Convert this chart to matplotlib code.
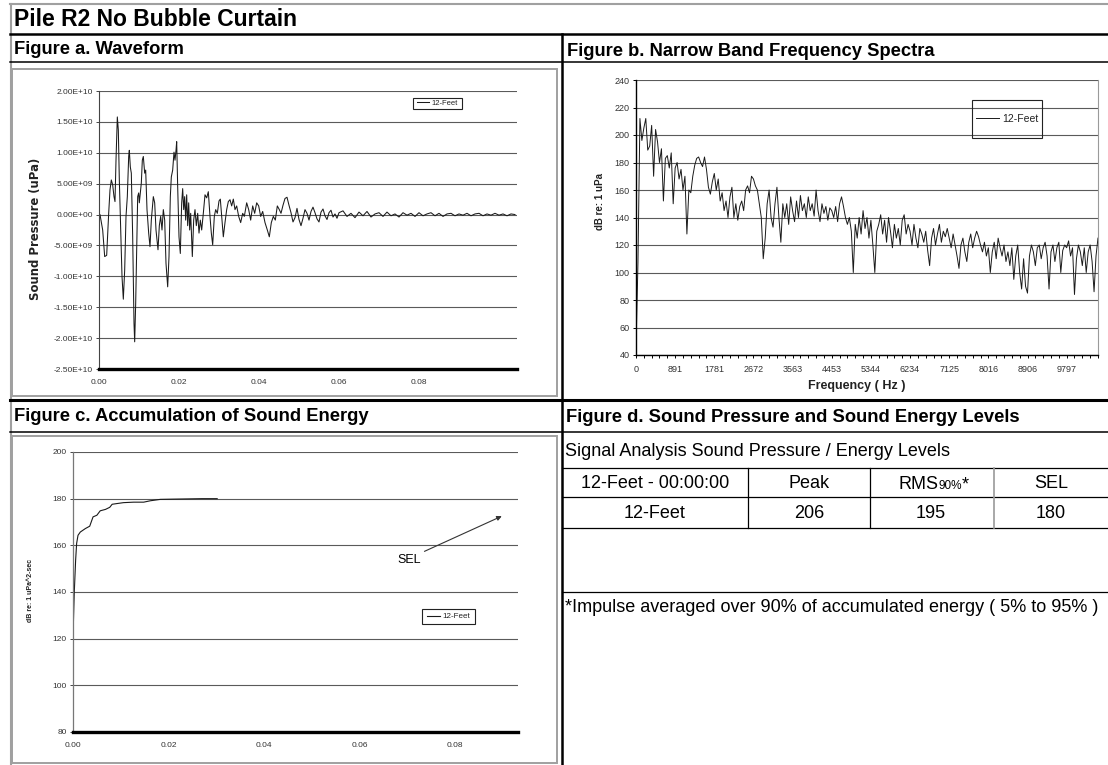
import numpy as np
import matplotlib
matplotlib.use("Agg")
import matplotlib.pyplot as plt
from matplotlib.lines import Line2D
from matplotlib.patches import Rectangle
from matplotlib.text import Annotation
from matplotlib.ticker import FuncFormatter, MultipleLocator, FormatStrFormatter

plt.rcParams['font.family'] = ['Liberation Sans', 'DejaVu Sans']

# ---------------- data ----------------
series_name = '12-Feet'

# Figure a: waveform (time in ms, pressure in 1e9 uPa)
waveform_time_ms = [
    0.0, 0.25, 0.92, 1.42, 1.92, 2.42, 2.75, 3.08, 3.42, 3.75, 4.0, 4.25, 4.58, 4.83,
    5.08, 5.42, 5.75, 6.08, 6.42, 6.75, 7.08, 7.42, 7.58, 7.83, 8.08, 8.42, 8.75, 8.92,
    9.17, 9.42, 9.67, 9.92, 10.08, 10.33, 10.58, 10.83, 11.08, 11.42, 11.67, 12.0, 12.42,
    12.75, 13.08, 13.58, 13.92, 14.25, 14.75, 15.08, 15.42, 15.75, 16.08, 16.42, 16.75,
    17.17, 17.5, 17.83, 18.08, 18.42, 18.75, 19.0, 19.25, 19.42, 19.67, 20.0, 20.33,
    20.67, 20.92, 21.17, 21.42, 21.67, 21.92, 22.17, 22.42, 22.67, 22.92, 23.33, 23.67,
    24.0, 24.33, 24.67, 25.0, 25.33, 25.67, 26.08, 26.5, 26.92, 27.33, 27.75, 28.08,
    28.42, 28.83, 29.17, 29.58, 30.0, 30.33, 30.75, 31.08, 31.5, 31.92, 32.33, 32.75,
    33.17, 33.58, 34.0, 34.42, 34.92, 35.42, 35.92, 36.33, 36.92, 37.42, 37.92, 38.42,
    38.92, 39.42, 39.92, 40.42, 40.92, 41.5, 42.08, 42.58, 43.08, 43.58, 44.08, 44.58,
    45.08, 45.5, 46.0, 46.5, 47.0, 47.5, 48.0, 48.5, 49.0, 49.5, 50.0, 50.5, 51.0, 51.5,
    52.0, 52.5, 53.0, 53.5, 54.0, 54.5, 55.0, 55.5, 56.0, 56.5, 57.0, 57.5, 58.0, 58.5,
    59.0, 59.5, 60.0, 61, 62, 63, 64, 65, 66, 67, 68, 69, 70, 71, 72, 73, 74, 75, 76,
    77, 78, 79, 80, 81, 82, 83, 84, 85, 86, 87, 88, 89, 90, 91, 92, 93, 94, 95, 96, 97,
    98, 99, 100, 101, 102, 103, 104,
]
waveform_pressure_1e9 = [
    0.0, 0.0, -2.5, -6.8, -6.6, 0.2, 4.0, 5.6, 4.8, 2.9, 2.1, 8.8, 15.8, 13.7,
    5.6, -2.5, -10.0, -13.7, -9.0, -0.3, 2.9, 9.4, 10.4, 7.7, 6.7, -3.6, -17.6, -20.6,
    -14.4, -5.7, 2.9, 3.5, 1.9, 3.5, 5.1, 8.8, 9.4, 6.7, 7.2, 0.8, -3.0,
    -5.2, -0.9, 2.9, 1.9, -2.5, -5.7, -1.8, -0.3, -2.5, 0.8, -0.9, -7.9,
    -11.7, -6.8, 2.9, 6.1, 7.2, 10.1, 8.8, 10.4, 11.8, 4.5, -3.6, -6.3,
    1.9, 4.2, 0.8, 2.9, -0.9, 3.2, -1.8, 1.9, -2.5, 0.2, -6.8, -0.9,
    0.8, -1.8, 0.2, -3.0, -0.9, -2.5, 0.2, 3.2, 2.7, 3.7, -0.3, -3.0,
    -4.9, -0.3, 0.8, 0.2, 2.2, 2.5, -0.9, -3.6, -1.3, 0.8, 2.1, 2.4,
    1.4, 2.5, 0.8, 1.4, -0.3, -1.3, 0.2, -0.3, 1.9, 0.8, -0.9, 1.4,
    0.2, 1.9, 1.4, -0.3, 0.5, -1.3, -2.5, -3.6, -1.3, -0.3, -0.9, 1.4,
    0.8, 0.2, 1.5, 2.6, 2.8, 1.5, 0.3, -1.2, -0.5, 1.0, -0.8, -1.8, -0.6, 0.8,
    0.2, -0.9, 0.5, 1.2, 0.3, -0.7, -1.2, 0.4, 0.9, -0.2, -0.8, 0.3, 0.7, -0.4,
    0.1, -0.6, 0.3, 0.6, -0.3, 0.2, -0.5, 0.4, -0.2, 0.5, -0.4, 0.1, 0.3, -0.3, 0.4, -0.2, 0.1, -0.4, 0.3,
    -0.1, 0.2, -0.3, 0.3, -0.2, 0.1, 0.3, -0.2, 0.2, -0.3, 0.1, 0.2, -0.2, 0.1, -0.1, 0.2, -0.2, 0.1, 0.2, -0.2, 0.1,
    -0.1, 0.2, -0.1, 0.1, -0.2, 0.1, 0.0,
]
waveform_yticks_1e9 = [-25, -20, -15, -10, -5, 0, 5, 10, 15, 20]
time_ticks_s = [0.00, 0.02, 0.04, 0.06, 0.08]

# Figure b: narrow band spectrum (dB re 1 uPa), one value per frequency bin
freq_bin_hz = 44.53125
spectrum_db = [
    45, 107, 212, 196, 205, 212, 189, 192, 207, 170, 204, 195, 180, 190, 152, 183, 185, 176, 187, 150,
    176, 180, 168, 175, 160, 170, 128, 160, 158, 170, 178, 183, 184, 180, 177, 184, 175, 162, 157, 166,
    172, 160, 168, 152, 158, 145, 152, 140, 155, 162, 140, 150, 138, 148, 152, 145, 160, 163, 158, 170,
    168, 163, 160, 150, 140, 110, 125, 150, 160, 140, 133, 150, 162, 140, 122, 150, 140, 150, 135, 155,
    145, 137, 152, 140, 156, 145, 150, 140, 155, 145, 150, 141, 160, 145, 137, 150, 143, 148, 138, 147,
    145, 140, 148, 137, 150, 155, 148, 140, 135, 140, 130, 100, 135, 125, 140, 128, 145, 132, 140, 125,
    138, 120, 100, 130, 135, 142, 128, 138, 122, 140, 130, 118, 135, 125, 132, 120, 138, 142, 128, 135,
    130, 120, 135, 125, 118, 132, 128, 122, 130, 116, 105, 125, 132, 120, 128, 135, 122, 130, 126, 132,
    125, 118, 128, 120, 112, 103, 120, 125, 115, 108, 122, 128, 118, 125, 130, 126, 120, 115, 122, 112,
    118, 100, 115, 122, 110, 125, 118, 112, 120, 108, 115, 105, 118, 95, 112, 120, 100, 88, 110, 90,
    85, 112, 120, 115, 105, 118, 120, 110, 118, 122, 112, 88, 115, 120, 108, 118, 122, 100, 116, 120,
    118, 123, 112, 118, 84, 110, 120, 115, 105, 118, 100, 115, 120, 108, 86, 112, 125,
]
freq_tick_labels = ['0', '891', '1781', '2672', '3563', '4453', '5344', '6234',
                    '7125', '8016', '8906', '9797']
freq_yticks = [40, 60, 80, 100, 120, 140, 160, 180, 200, 220, 240]

# Figure c: accumulation of sound energy
sel_time_ms = [0, 0.1, 0.27, 0.55, 0.76, 1.05, 1.53, 2.6, 3.5, 4.2, 5.0, 5.7, 6.8, 7.7,
               8.2, 9.2, 10.6, 12.7, 14.8, 16.2, 18.3, 21, 24, 27, 30.2]
sel_db = [115, 128, 140, 153.6, 160.8, 164.3, 165.7, 167.2, 168.2, 172.2, 172.9, 174.8,
          175.4, 176.3, 177.6, 177.9, 178.3, 178.5, 178.5, 179.1, 179.7, 179.8, 179.9,
          180.0, 180.0]
sel_yticks = [80, 100, 120, 140, 160, 180, 200]

# Figure d: table
table_title = 'Signal Analysis Sound Pressure / Energy Levels'
table_header = ['12-Feet - 00:00:00', 'Peak', 'RMS', 'SEL']
table_row = ['12-Feet', '206', '195', '180']
table_note = '*Impulse averaged over 90% of accumulated energy ( 5% to 95% )'

# ---------------- layout helpers ----------------
W, H = 1108, 765
fig = plt.figure(figsize=(W / 100, H / 100), dpi=100)
fig.patch.set_facecolor('white')


def rect(l, t, r, b):
    return [l / W, 1 - b / H, (r - l) / W, (b - t) / H]


def hline(y, x0, x1, color='black', lw=1.0):
    fig.add_artist(Line2D([x0 / W, x1 / W], [1 - y / H, 1 - y / H],
                          transform=fig.transFigure, color=color, lw=lw))


def vline(x, y0, y1, color='black', lw=1.0):
    fig.add_artist(Line2D([x / W, x / W], [1 - y0 / H, 1 - y1 / H],
                          transform=fig.transFigure, color=color, lw=lw))


def box(l, t, r, b, color='#a0a0a0', lw=1.0):
    fig.add_artist(Rectangle((l / W, 1 - b / H), (r - l) / W, (b - t) / H,
                             transform=fig.transFigure, fill=False,
                             edgecolor=color, lw=lw))


def ftext(x, y, s, **kw):
    return fig.text(x / W, 1 - y / H, s, **kw)


# ---------------- frame lines ----------------
hline(4, 10, 1108, '#a0a0a0', 1.5)
vline(10.5, 4, 765, '#a0a0a0', 1.5)
hline(34, 10, 1108, 'black', 1.8)
hline(61.5, 10, 1108, 'black', 1.1)
vline(562, 34, 765, 'black', 1.8)
hline(400, 10, 1108, 'black', 2.2)
hline(432, 10, 1108, 'black', 1.1)
box(12, 69, 557, 396, '#a0a0a0', 1.4)
box(12, 436, 557, 763, '#a0a0a0', 1.4)

# headings
HFS = 13.2
ftext(14, 19.5, 'Pile R2 No Bubble Curtain', fontsize=16.5, fontweight='bold', va='center')
ftext(14, 50, 'Figure a. Waveform', fontsize=HFS, fontweight='bold', va='center')
ftext(567, 51, 'Figure b. Narrow Band Frequency Spectra', fontsize=HFS, fontweight='bold', va='center')
ftext(14, 417, 'Figure c. Accumulation of Sound Energy', fontsize=HFS, fontweight='bold', va='center')
ftext(566, 418, 'Figure d. Sound Pressure and Sound Energy Levels', fontsize=HFS, fontweight='bold', va='center')

GRID = '#5a5a5a'
TICKC = '#333333'
LINEC = '#1a1a1a'


def legend_box(ax, l, t, r, b, fs, hl):
    box(l, t, r, b, '#222222', 0.8)
    ax.legend(loc='center', bbox_to_anchor=((l + r) / 2 / W, 1 - (t + b) / 2 / H),
              bbox_transform=fig.transFigure, frameon=False, fontsize=fs,
              handlelength=hl, handletextpad=0.3, borderpad=0, labelcolor='#222222')


# ---------------- Figure a ----------------
axa = fig.add_axes(rect(99, 91, 517, 369))
axa.plot(np.array(waveform_time_ms) / 1000.0, np.array(waveform_pressure_1e9) * 1e9,
         color=LINEC, lw=0.75, label=series_name)
axa.set_xlim(0, 0.1045)
axa.set_ylim(-2.5e10, 2.0e10)
axa.set_yticks(np.array(waveform_yticks_1e9) * 1e9)
axa.yaxis.set_major_formatter(FuncFormatter(lambda v, p: f"{v:.2E}"))
axa.set_xticks(time_ticks_s)
axa.xaxis.set_major_formatter(FormatStrFormatter('%.2f'))
axa.yaxis.grid(True, color=GRID, lw=0.8)
axa.set_axisbelow(True)
for s in ('top', 'right'):
    axa.spines[s].set_visible(False)
axa.spines['left'].set_color('#444444')
axa.spines['left'].set_linewidth(0.8)
axa.spines['bottom'].set_color('black')
axa.spines['bottom'].set_linewidth(2.4)
axa.tick_params(axis='y', direction='out', length=2.5, width=0.7, color='#444444',
                labelsize=6, labelcolor=TICKC, pad=2)
axa.tick_params(axis='x', length=0, labelsize=6, labelcolor=TICKC, pad=7)
ftext(36, 229, 'Sound Pressure (uPa)', rotation=90, fontsize=8.4, fontweight='bold',
      family='DejaVu Sans', ha='center', va='center', color='#222222')
legend_box(axa, 413, 98, 462, 109, 5.5, 1.6)

# ---------------- Figure b ----------------
axb = fig.add_axes(rect(636, 80, 1098, 355))
freqs = np.arange(len(spectrum_db)) * freq_bin_hz
axb.plot(freqs, spectrum_db, color=LINEC, lw=0.7, label=series_name)
axb.set_xlim(0, 10510)
axb.set_ylim(40, 240)
axb.set_yticks(freq_yticks)
axb.set_xticks([i * 20 * freq_bin_hz for i in range(len(freq_tick_labels))])
axb.set_xticklabels(freq_tick_labels)
axb.xaxis.set_minor_locator(MultipleLocator(4 * freq_bin_hz))
axb.yaxis.grid(True, color=GRID, lw=0.8)
axb.set_axisbelow(True)
axb.spines['top'].set_visible(False)
axb.spines['right'].set_color('#9a9a9a')
axb.spines['right'].set_linewidth(0.8)
axb.spines['left'].set_color('black')
axb.spines['left'].set_linewidth(1.0)
axb.spines['bottom'].set_color('black')
axb.spines['bottom'].set_linewidth(1.0)
axb.tick_params(axis='both', which='both', direction='out', length=2.5, width=0.7,
                color='black', labelsize=6.5, labelcolor=TICKC)
axb.tick_params(axis='x', pad=5)
axb.tick_params(axis='y', pad=2)
ftext(600, 202, 'dB re: 1 uPa', rotation=90, fontsize=7, fontweight='bold',
      ha='center', va='center', color='#222222')
ftext(857, 386.5, 'Frequency ( Hz )', fontsize=9, fontweight='bold',
      ha='center', va='center', color='#222222')
legend_box(axb, 972, 100, 1042, 138, 7.5, 2.2)

# ---------------- Figure c ----------------
axc = fig.add_axes(rect(73, 452, 518, 732))
axc.plot(np.array(sel_time_ms) / 1000.0, sel_db, color=LINEC, lw=0.8, label=series_name)
axc.set_xlim(0, 0.0932)
axc.set_ylim(80, 200)
axc.set_yticks(sel_yticks)
axc.set_xticks(time_ticks_s)
axc.xaxis.set_major_formatter(FormatStrFormatter('%.2f'))
axc.yaxis.grid(True, color=GRID, lw=0.8)
axc.set_axisbelow(True)
for s in ('top', 'right'):
    axc.spines[s].set_visible(False)
axc.spines['left'].set_color('#777777')
axc.spines['left'].set_linewidth(0.9)
axc.spines['bottom'].set_color('black')
axc.spines['bottom'].set_linewidth(2.4)
axc.tick_params(axis='y', direction='out', length=2.5, width=0.7, color='#444444',
                labelsize=6, labelcolor=TICKC, pad=2)
axc.tick_params(axis='x', length=0, labelsize=6, labelcolor=TICKC, pad=7)
ftext(31, 590, 'dB re: 1 uPa^2-sec', rotation=90, fontsize=5, fontweight='bold',
      ha='center', va='center', color='#222222')
legend_box(axc, 422, 609, 475, 624, 5.8, 1.6)
axc.annotate('SEL', xy=(0.0898, 172.5), xytext=(0.0703, 153.6),
             fontsize=9, ha='center', va='center', color='black',
             arrowprops=dict(arrowstyle='-|>', color='#333333', lw=0.8,
                             mutation_scale=7, shrinkA=1, shrinkB=0, relpos=(0.9, 1.0)))

# ---------------- Figure d (table) ----------------
ftext(565, 452, table_title, fontsize=13, va='center')
for y in (468, 497, 528, 592):
    hline(y, 562, 1108, 'black', 0.9)
vline(748, 468, 528, 'black', 0.9)
vline(870, 468, 528, 'black', 0.9)
vline(994, 468, 528, '#9a9a9a', 1.2)
col_centers = [655, 809, 931, 1051]
for i, (hdr, val) in enumerate(zip(table_header, table_row)):
    if hdr == 'RMS':
        t1 = ftext(898, 489, hdr, fontsize=13, va='baseline', ha='left')
        t2 = Annotation('90%', xy=(1, 0), xycoords=t1, xytext=(0.4, 0.5),
                        textcoords='offset points', fontsize=8.5, va='bottom', ha='left')
        fig.add_artist(t2)
        t3 = Annotation('*', xy=(1, 0), xycoords=t2, xytext=(0, -0.5),
                        textcoords='offset points', fontsize=13, va='bottom', ha='left')
        fig.add_artist(t3)
    else:
        ftext(col_centers[i], 483, hdr, fontsize=13, ha='center', va='center')
    ftext(col_centers[i], 513, val, fontsize=13, ha='center', va='center')
ftext(565, 608, table_note, fontsize=13, va='center')

fig.savefig('out.png', dpi=100, facecolor='white')
